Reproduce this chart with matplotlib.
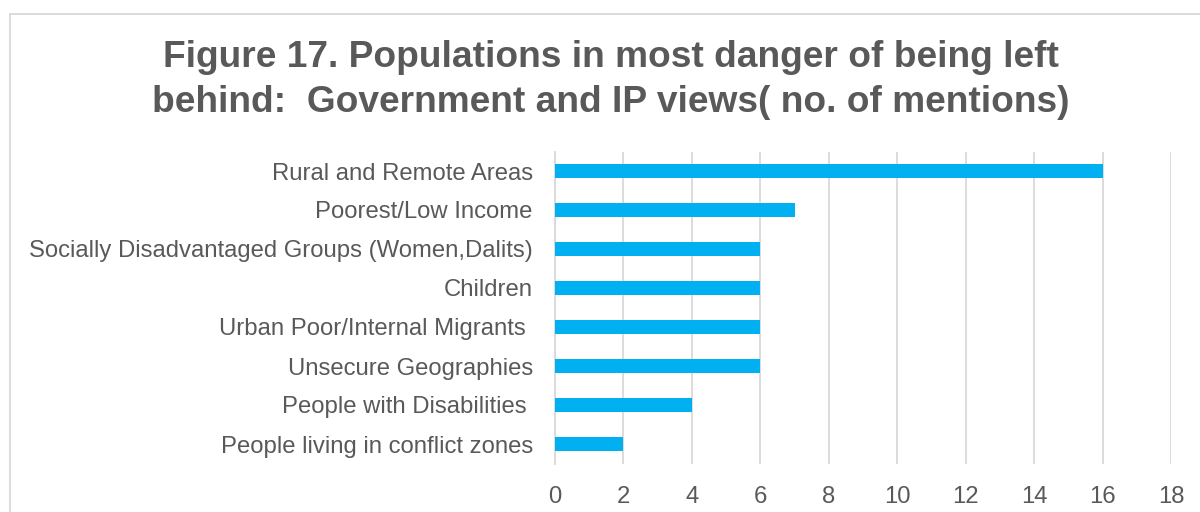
import matplotlib.pyplot as plt
from matplotlib.patches import Rectangle

plt.rcParams['font.family'] = ['Liberation Sans', 'DejaVu Sans']

categories = [
    "Rural and Remote Areas",
    "Poorest/Low Income",
    "Socially Disadvantaged Groups (Women,Dalits)",
    "Children",
    "Urban Poor/Internal Migrants ",
    "Unsecure Geographies",
    "People with Disabilities ",
    "People living in conflict zones",
]
mentions = [16, 7, 6, 6, 6, 6, 4, 2]
x_ticks = list(range(0, 19, 2))
title_lines = [
    "Figure 17. Populations in most danger of being left",
    "behind:  Government and IP views( no. of mentions)",
]

text_color = "#595959"
bar_color = "#00B0F0"
grid_color = "#D9D9D9"

W, H = 1200, 512
fig = plt.figure(figsize=(W / 100, H / 100), dpi=100)

# chart frame (runs off the right and bottom edges)
fig.patches.append(Rectangle((10 / W, -0.1), 1.2, 1.1 - 13.5 / H,
                             transform=fig.transFigure, fill=False,
                             edgecolor=grid_color, linewidth=1.3))

ax = fig.add_axes([555 / W, 1 - 463.5 / H, (1171 - 555) / W, (463.5 - 151.5) / H])

y = list(range(len(categories)))
ax.barh(y, mentions, height=0.36, color=bar_color, zorder=3)
ax.set_ylim(len(categories) - 0.5, -0.5)
ax.set_xlim(0, 18)
ax.set_xticks(x_ticks)
ax.set_yticks(y)
ax.set_yticklabels(categories)

ax.grid(axis="x", color=grid_color, linewidth=1.3, zorder=0)
for side in ["top", "right", "bottom"]:
    ax.spines[side].set_visible(False)
ax.spines["left"].set_color(grid_color)
ax.spines["left"].set_linewidth(1.3)
ax.tick_params(axis="both", length=0, labelsize=17.2, colors=text_color)
ax.tick_params(axis="x", pad=16)
ax.tick_params(axis="y", pad=16)

for line, base in zip(title_lines, [67, 111.5]):
    fig.text(611 / W, 1 - base / H, line, ha="center", va="baseline",
             fontsize=26.7, fontweight="bold", color=text_color)

fig.savefig("out.png", dpi=100)
